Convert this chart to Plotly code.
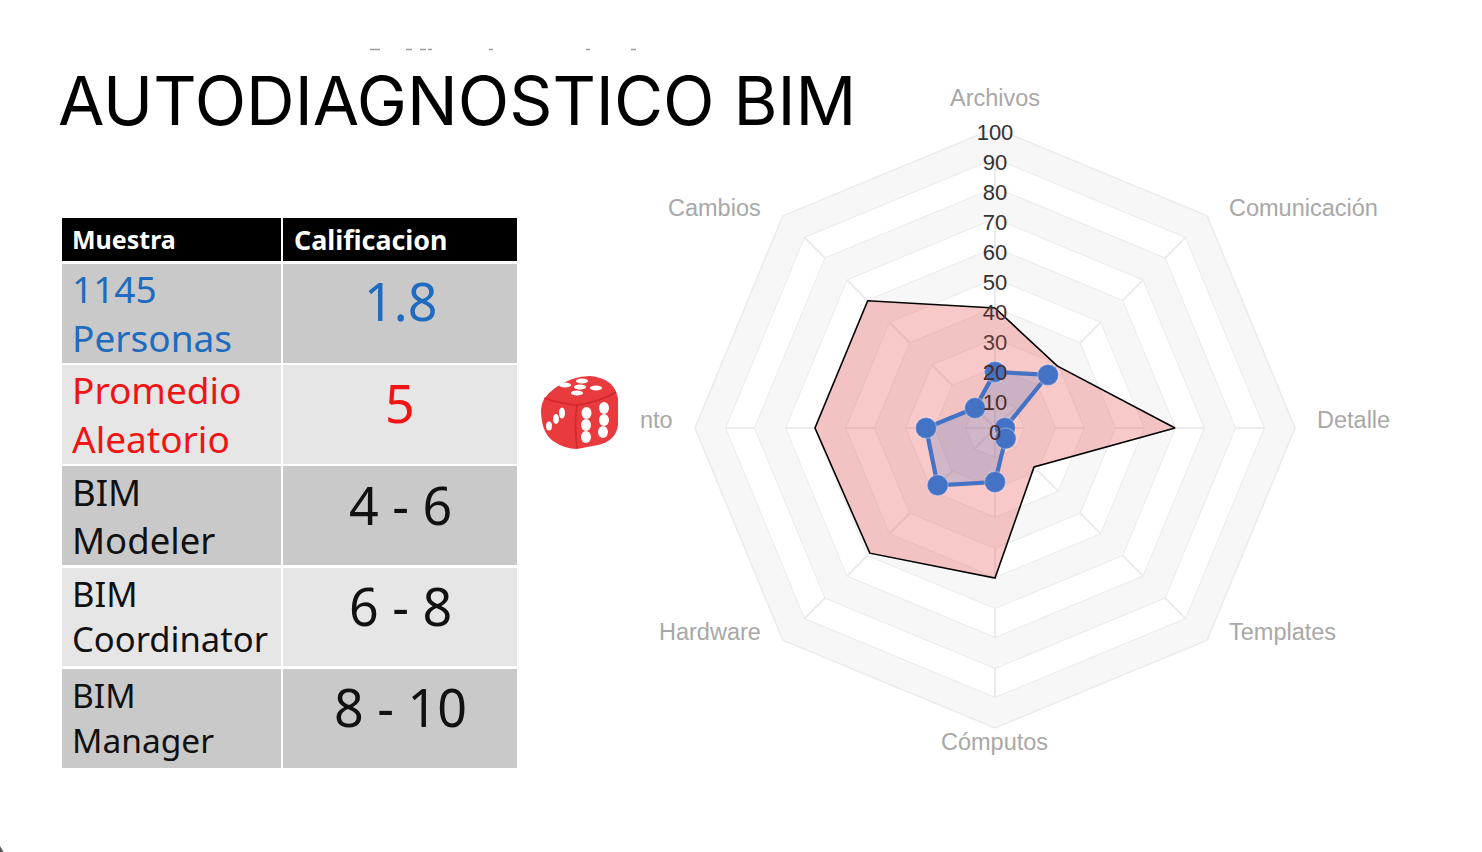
import plotly.graph_objects as go

categories = ["Archivos", "Comunicación", "Detalle", "Templates", "Cómputos", "Hardware", "nto", "Cambios"]
promedio_aleatorio = [40, 29.3, 60, 18.4, 50, 59, 60, 60]
muestra_1145 = [18.7, 25, 3.3, 5, 18, 27, 23, 9.4]
radial_ticks = [0, 10, 20, 30, 40, 50, 60, 70, 80, 90, 100]
band_limits = [(90, 100), (70, 80), (50, 60), (30, 40), (10, 20)]

table_header = ["Muestra", "Calificacion"]
table_muestra = [["1145", "Personas"], ["Promedio", "Aleatorio"], ["BIM", "Modeler"], ["BIM", "Coordinator"], ["BIM", "Manager"]]
table_calificacion = ["1.8", "5", "4 - 6", "6 - 8", "8 - 10"]
row_text_colors = ["#1F6CBE", "#F01414", "#111111", "#111111", "#111111"]
row_fill_colors = ["#C9C9C9", "#E6E6E6", "#C9C9C9", "#E6E6E6", "#C9C9C9"]

W, H = 1482, 852
CX, CY, R = 995, 428, 300
SANS = "Noto Sans"
ROW_TOPS = [264, 365, 467, 568, 669]
ROW_FONT_SIZES = [37, 37, 36.5, 34.6, 33.5]


def px(x):
    return x / W


def py(y):
    return 1 - y / H


def note(text, x, y, anchor, size, color, family=SANS):
    return dict(text=text, x=px(x), y=py(y), xref="paper", yref="paper",
                xanchor=anchor, yanchor="middle", showarrow=False,
                font=dict(family=family, size=size, color=color))


fig = go.Figure()

fig.add_trace(go.Table(
    domain=dict(x=[px(61), px(518)], y=[py(770), py(217)]),
    columnwidth=[220.4, 235.6],
    header=dict(
        values=["", ""],
        fill_color="#000000",
        line=dict(color="#FFFFFF", width=2.5),
        font=dict(family=SANS, size=12, color="#FFFFFF"),
        height=45.5,
    ),
    cells=dict(
        values=[[""] * 5, [""] * 5],
        fill_color=[row_fill_colors, row_fill_colors],
        line=dict(color="#FFFFFF", width=2.5),
        font=dict(family=SANS, size=12),
        height=101.3,
    ),
))

theta_closed = categories + categories[:1]
for low, high in band_limits:
    fig.add_trace(go.Scatterpolar(
        r=[high] * 9 + [low] * 9,
        theta=theta_closed + theta_closed[::-1],
        mode="lines", fill="toself", fillcolor="#F7F7F7",
        line=dict(width=0), hoverinfo="skip", showlegend=False, subplot="polar",
    ))

fig.add_trace(go.Scatterpolar(
    r=promedio_aleatorio + promedio_aleatorio[:1], theta=theta_closed,
    mode="lines", fill="toself", fillcolor="rgba(236,90,90,0.33)",
    line=dict(color="#000000", width=1.6), name="Promedio Aleatorio",
    showlegend=False, subplot="polar",
))
fig.add_trace(go.Scatterpolar(
    r=muestra_1145 + muestra_1145[:1], theta=theta_closed,
    mode="lines+markers", fill="toself", fillcolor="rgba(68,114,196,0.22)",
    line=dict(color="#4472C4", width=4.2),
    marker=dict(size=21, color="#4472C4", line=dict(color="rgba(255,255,255,0.25)", width=1.5)),
    name="1145 Personas", showlegend=False, subplot="polar",
))
tick_colors = ["#4A2C2C", "#4A2C2C", "#4A2C2C", "#5A3A3A", "#4A3030"] + ["#333333"] * 6
fig.add_trace(go.Scatterpolar(
    r=radial_ticks, theta=[categories[0]] * len(radial_ticks),
    mode="text", text=[str(v) for v in radial_ticks], textposition="middle center",
    textfont=dict(family="Liberation Sans", size=22, color=tick_colors),
    cliponaxis=False, hoverinfo="skip", showlegend=False, subplot="polar2",
))

label_places = [
    (995, 98, "center"), (1227, 208, "left"), (1315, 420, "left"), (1227, 632, "left"),
    (995, 742, "center"), (763, 632, "right"), (675, 420, "right"), (763, 208, "right"),
]

annotations = [note("AUTODIAGNOSTICO BIM", 56, 100, "left", 67.3, "#000000", "Inter")]
annotations += [note(c, x, y, a, 23.5, "#A8A8A8", "Liberation Sans") for c, (x, y, a) in zip(categories, label_places)]
annotations += [
    note("<b>" + table_header[0] + "</b>", 70, 239, "left", 25, "#FFFFFF"),
    note("<b>" + table_header[1] + "</b>", 291.5, 239, "left", 26.8, "#FFFFFF"),
]
for top, lines, value, color, size in zip(ROW_TOPS, table_muestra, table_calificacion, row_text_colors, ROW_FONT_SIZES):
    middle = top + (48 if top > 560 else 49)
    half_gap = max(0.65 * size + 0.2, 22.5)
    annotations.append(note(lines[0], 70, middle - half_gap, "left", size, color))
    annotations.append(note(lines[1], 70, middle + half_gap, "left", size, color))
    annotations.append(note(value, 400, top + 37, "center", 52, color))

die_pips = [
    (565, 385, 6, 2.5), (582, 381, 6, 2.5), (580, 387, 6, 2.5), (596, 388, 6, 2.5), (577, 393, 6, 2.5),
    (549, 426, 3, 4.5), (556, 419, 3, 5), (562, 413, 3, 5.5),
    (586.5, 413, 5, 6), (604, 408, 5, 6), (586, 425, 5, 6), (604, 420, 5, 6), (586, 437, 5, 6), (603, 432, 5, 6),
]
fragments = [(370, 380), (406, 412), (420, 426), (428, 432), (489, 493), (586, 590), (631, 636)]

grid = "#EBEBEB"
fig.update_layout(
    width=W, height=H,
    margin=dict(l=0, r=0, t=0, b=0),
    paper_bgcolor="#FFFFFF",
    font=dict(family="Liberation Sans"),
    showlegend=False,
    polar=dict(
        domain=dict(x=[px(CX - R), px(CX + R)], y=[py(CY + R), py(CY - R)]),
        gridshape="linear",
        bgcolor="rgba(0,0,0,0)",
        angularaxis=dict(
            type="category", categoryorder="array", categoryarray=categories,
            direction="clockwise", rotation=90,
            gridcolor=grid, gridwidth=1.5, linecolor=grid, linewidth=1.5,
            ticks="", showticklabels=False,
        ),
        radialaxis=dict(
            range=[0, 100], tickvals=radial_ticks, showticklabels=False, ticks="",
            gridcolor=grid, gridwidth=1.5, showline=False,
        ),
    ),
    polar2=dict(
        domain=dict(x=[px(CX - R), px(CX + R)], y=[py(CY + R + 6.5), py(CY - R + 6.5)]),
        bgcolor="rgba(0,0,0,0)",
        angularaxis=dict(
            type="category", categoryorder="array", categoryarray=categories,
            direction="clockwise", rotation=90, showgrid=False, showline=False,
            showticklabels=False, ticks="",
        ),
        radialaxis=dict(range=[0, 100], visible=False),
    ),
    annotations=annotations,
    shapes=[
        dict(type="path", xref="paper", yref="paper", layer="above",
             path=f"M {px(541)},{py(410)} Q {px(541)},{py(398)} {px(555)},{py(388)} "
                  f"Q {px(572)},{py(376)} {px(590)},{py(376)} Q {px(614)},{py(378)} {px(618)},{py(398)} "
                  f"L {px(618)},{py(425)} Q {px(616)},{py(441)} {px(598)},{py(445)} L {px(577)},{py(449)} "
                  f"Q {px(565)},{py(449)} {px(553)},{py(441)} Q {px(541)},{py(432)} {px(541)},{py(410)} Z",
             fillcolor="#E93A3E", line=dict(width=0)),
        dict(type="path", xref="paper", yref="paper", layer="above",
             path=f"M {px(544)},{py(398)} Q {px(562)},{py(404)} {px(577)},{py(405)} Q {px(600)},{py(402)} {px(616)},{py(392)} "
                  f"M {px(577)},{py(405)} Q {px(574)},{py(425)} {px(577)},{py(448)}",
             line=dict(color="rgba(190,25,30,0.55)", width=1.5)),
        dict(type="path", xref="paper", yref="paper", layer="above",
             path=f"M 0,{py(846)} L {px(3.5)},{py(852)} L 0,{py(852)} Z",
             fillcolor="#555555", line=dict(width=0)),
    ] + [
        dict(type="circle", xref="paper", yref="paper", layer="above",
             x0=px(x - rx), x1=px(x + rx), y0=py(y + ry), y1=py(y - ry),
             fillcolor="#FFFFFF", line=dict(width=0))
        for x, y, rx, ry in die_pips
    ] + [
        dict(type="line", xref="paper", yref="paper", x0=px(a), x1=px(b), y0=py(49.5), y1=py(49.5),
             line=dict(color="#9A9A9A", width=1.5))
        for a, b in fragments
    ],
)

fig.write_html("out.html", config={"displayModeBar": False},
               post_script="document.body.style.margin='0';document.body.style.overflow='hidden';")
